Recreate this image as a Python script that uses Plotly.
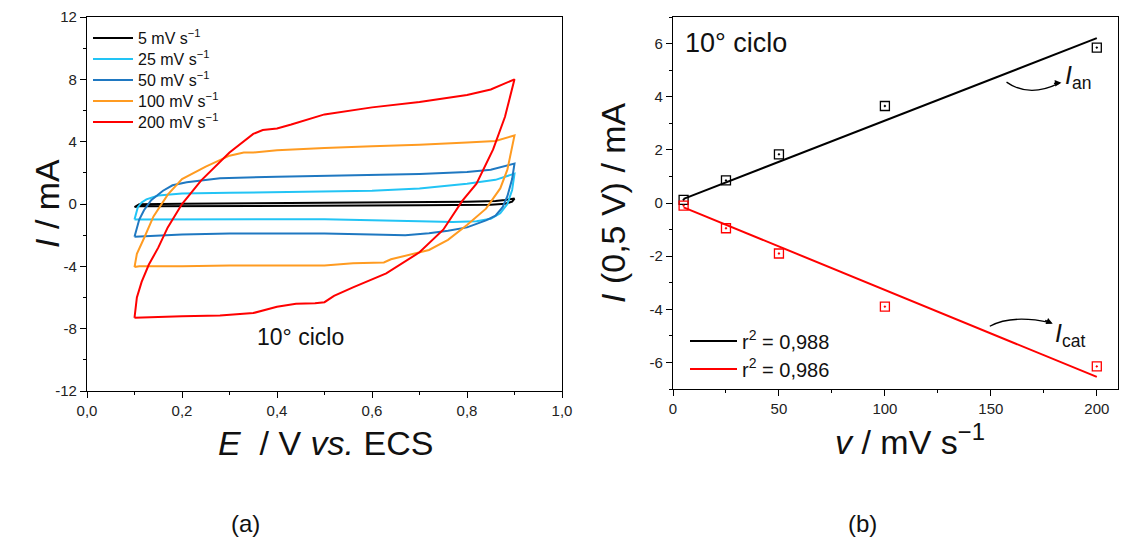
import numpy as np
import plotly.graph_objects as go

W, H = 1138, 551

# ---------------- (a) cyclic voltammograms ----------------
scan_labels = ["5 mV s<sup>−1</sup>", "25 mV s<sup>−1</sup>", "50 mV s<sup>−1</sup>",
               "100 mV s<sup>−1</sup>", "200 mV s<sup>−1</sup>"]
scan_colors = ["#000000", "#22C4F5", "#1F78C1", "#FF9B21", "#FF0000"]

E_5_fwd = [0.10, 0.105, 0.11, 0.20, 0.35, 0.50, 0.65, 0.80, 0.86, 0.88, 0.90]
I_5_fwd = [-0.20, -0.08, -0.02, 0.02, 0.05, 0.08, 0.11, 0.15, 0.20, 0.25, 0.35]
E_5_rev = [0.90, 0.895, 0.88, 0.85, 0.70, 0.50, 0.35, 0.20, 0.11, 0.10]
I_5_rev = [0.35, 0.15, 0.02, -0.05, -0.08, -0.10, -0.11, -0.12, -0.15, -0.20]

E_25_fwd = [0.10, 0.103, 0.107, 0.115, 0.125, 0.15, 0.20, 0.30, 0.40, 0.50, 0.60, 0.70, 0.80, 0.86, 0.90]
I_25_fwd = [-1.00, -0.60, -0.20, 0.10, 0.30, 0.55, 0.68, 0.72, 0.75, 0.78, 0.85, 1.00, 1.30, 1.55, 1.95]
E_25_rev = [0.90, 0.895, 0.885, 0.87, 0.85, 0.82, 0.77, 0.70, 0.60, 0.50, 0.40, 0.30, 0.20, 0.11, 0.10]
I_25_rev = [1.95, 0.90, 0.00, -0.60, -0.95, -1.10, -1.15, -1.10, -1.03, -0.98, -0.98, -0.98, -1.00, -1.00, -1.00]

E_50_fwd = [0.10, 0.105, 0.11, 0.12, 0.135, 0.16, 0.18, 0.21, 0.28, 0.40, 0.50, 0.60, 0.70, 0.80, 0.85, 0.90]
I_50_fwd = [-2.10, -1.60, -1.00, -0.40, 0.25, 0.85, 1.20, 1.40, 1.65, 1.75, 1.80, 1.85, 1.93, 2.05, 2.20, 2.60]
E_50_rev = [0.90, 0.895, 0.885, 0.875, 0.86, 0.84, 0.80, 0.76, 0.72, 0.67, 0.60, 0.50, 0.40, 0.30, 0.20, 0.11, 0.10]
I_50_rev = [2.60, 1.60, 0.50, -0.20, -0.75, -1.05, -1.50, -1.72, -1.88, -2.00, -1.95, -1.90, -1.90, -1.90, -1.95, -2.05, -2.10]

E_100_fwd = [0.10, 0.105, 0.12, 0.14, 0.17, 0.20, 0.25, 0.30, 0.33, 0.35, 0.40, 0.50, 0.60, 0.70, 0.80, 0.86, 0.90]
I_100_fwd = [-4.05, -3.20, -2.20, -0.80, 0.60, 1.60, 2.40, 3.10, 3.30, 3.30, 3.45, 3.60, 3.70, 3.80, 3.95, 4.05, 4.40]
E_100_rev = [0.90, 0.885, 0.87, 0.84, 0.80, 0.76, 0.72, 0.67, 0.64, 0.625, 0.56, 0.50, 0.40, 0.30, 0.20, 0.11, 0.10]
I_100_rev = [4.40, 2.20, 1.00, -0.30, -1.35, -2.30, -2.95, -3.30, -3.55, -3.75, -3.80, -3.95, -3.95, -3.95, -4.00, -4.00, -4.05]

E_200_fwd = [0.10, 0.105, 0.115, 0.13, 0.15, 0.17, 0.20, 0.24, 0.30, 0.35, 0.37, 0.40, 0.43, 0.50, 0.60, 0.70, 0.80, 0.85, 0.90]
I_200_fwd = [-7.30, -6.00, -5.00, -3.90, -2.80, -1.50, 0.00, 1.50, 3.30, 4.50, 4.75, 4.85, 5.10, 5.75, 6.20, 6.55, 7.00, 7.35, 8.00]
E_200_rev = [0.90, 0.88, 0.855, 0.82, 0.79, 0.75, 0.70, 0.63, 0.56, 0.52, 0.50, 0.48, 0.44, 0.40, 0.35, 0.28, 0.20, 0.10]
I_200_rev = [8.00, 5.60, 3.50, 1.30, 0.20, -1.65, -3.10, -4.45, -5.35, -5.90, -6.30, -6.37, -6.40, -6.60, -7.00, -7.15, -7.20, -7.30]

cv_E = [E_5_fwd + E_5_rev, E_25_fwd + E_25_rev, E_50_fwd + E_50_rev,
        E_100_fwd + E_100_rev, E_200_fwd + E_200_rev]
cv_I = [I_5_fwd + I_5_rev, I_25_fwd + I_25_rev, I_50_fwd + I_50_rev,
        I_100_fwd + I_100_rev, I_200_fwd + I_200_rev]

a_xticks = [0.0, 0.2, 0.4, 0.6, 0.8, 1.0]
a_xticktext = ["0,0", "0,2", "0,4", "0,6", "0,8", "1,0"]
a_yticks = [-12, -8, -4, 0, 4, 8, 12]
a_yticktext = ["-12", "-8", "-4", "0", "4", "8", "12"]

# ---------------- (b) current at 0.5 V vs scan rate ----------------
v_rate = [5, 25, 50, 100, 200]
I_an = [0.12, 0.85, 1.83, 3.65, 5.85]
I_cat = [-0.10, -0.95, -1.90, -3.90, -6.15]
r2_labels = ["r<sup>2</sup> = 0,988", "r<sup>2</sup> = 0,986"]

b_xticks = [0, 50, 100, 150, 200]
b_xticktext = ["0", "50", "100", "150", "200"]
b_yticks = [-6, -4, -2, 0, 2, 4, 6]
b_yticktext = ["-6", "-4", "-2", "0", "2", "4", "6"]

FONT = "Arial, Liberation Sans, sans-serif"

fig = go.Figure()

legend_layout = {}
left_leg_y = [38, 59, 80, 101, 122]
for k, (name, col, ee, ii) in enumerate(zip(scan_labels, scan_colors, cv_E, cv_I)):
    lname = "legend" if k == 0 else f"legend{k + 1}"
    fig.add_trace(go.Scatter(x=ee, y=ii, mode="lines", name=name,
                             line=dict(color=col, width=2),
                             xaxis="x", yaxis="y", legend=lname))
    legend_layout[lname] = dict(x=88 / W, y=1 - left_leg_y[k] / H, xanchor="left", yanchor="middle",
                                bgcolor="rgba(0,0,0,0)", itemwidth=40,
                                font=dict(family=FONT, size=16, color="#111"))

# linear fits through the origin (derived from the data)
v_arr = np.array(v_rate, dtype=float)
fit_colors = ["#000000", "#FF0000"]
right_leg_y = [341, 369]
for k, (lab, col, ys) in enumerate(zip(r2_labels, fit_colors, [I_an, I_cat])):
    lname = f"legend{6 + k}"
    y_arr = np.array(ys, dtype=float)
    slope = float((v_arr * y_arr).sum() / (v_arr ** 2).sum())
    fig.add_trace(go.Scatter(x=v_arr, y=slope * v_arr, mode="lines", name=lab,
                             line=dict(color=col, width=2),
                             xaxis="x2", yaxis="y2", legend=lname))
    legend_layout[lname] = dict(x=685 / W, y=1 - right_leg_y[k] / H, xanchor="left", yanchor="middle",
                                bgcolor="rgba(0,0,0,0)", itemwidth=47,
                                font=dict(family=FONT, size=20, color="#111"))
for col, ys in zip(fit_colors, [I_an, I_cat]):
    fig.add_trace(go.Scatter(x=v_rate, y=ys, mode="markers", showlegend=False,
                             marker=dict(symbol="square-open-dot", size=9, color=col,
                                         line=dict(width=1.3, color=col)),
                             xaxis="x2", yaxis="y2"))

axis_common = dict(showline=True, linecolor="black", linewidth=1.3, mirror=True,
                   showgrid=False, zeroline=False, ticks="outside", ticklen=6,
                   tickwidth=1.3, tickcolor="black", automargin=False,
                   tickfont=dict(family=FONT, size=15, color="#222222"))

fig.update_layout(
    width=W, height=H,
    margin=dict(l=0, r=0, t=0, b=0, autoexpand=False),
    paper_bgcolor="white", plot_bgcolor="white",
    font=dict(family=FONT, color="#111111"),
    xaxis=dict(domain=[87 / W, 562 / W], range=[0, 1], anchor="y",
               tickvals=a_xticks, ticktext=a_xticktext,
               minor=dict(ticks="outside", dtick=0.1, ticklen=3, tickcolor="black"),
               **axis_common),
    yaxis=dict(domain=[1 - 391 / H, 1 - 17 / H], range=[-12, 12], anchor="x",
               tickvals=a_yticks, ticktext=a_yticktext,
               minor=dict(ticks="outside", dtick=2, ticklen=3, tickcolor="black"),
               **axis_common),
    xaxis2=dict(domain=[673 / W, 1118 / W], range=[0, 210], anchor="y2",
                tickvals=b_xticks, ticktext=b_xticktext,
                minor=dict(ticks="outside", dtick=25, ticklen=3, tickcolor="black"),
                **axis_common),
    yaxis2=dict(domain=[1 - 389 / H, 1 - 17 / H], range=[-7, 7], anchor="x2",
                tickvals=b_yticks, ticktext=b_yticktext,
                minor=dict(ticks="outside", dtick=1, ticklen=3, tickcolor="black"),
                **axis_common),
    showlegend=True,
    **legend_layout,
)


def ptxt(text, px, py, size, xanchor="center", angle=0):
    return dict(text=text, x=px / W, y=1 - py / H, xref="paper", yref="paper",
                xanchor=xanchor, yanchor="middle", textangle=angle, showarrow=False,
                font=dict(size=size, family=FONT, color="#111"))


ann = [
    ptxt("<i>I</i> / mA", 47, 204, 34, angle=-90),
    ptxt("<i>E</i>  / V <i>vs.</i> ECS", 325, 443, 34),
    ptxt("<i>I</i> (0,5 V) / mA", 613, 203, 34, angle=-90),
    ptxt("<i>v</i> / mV s<sup>−1</sup>", 910, 440, 34),
    ptxt("(a)", 245, 523, 24),
    ptxt("(b)", 862, 523, 24),
    ptxt("10° ciclo", 300, 337, 23),
    ptxt("10° ciclo", 683, 43, 27, xanchor="left"),
]
# I_an / I_cat labels
ann.append(dict(text="<i>I</i><sub>an</sub>", x=184.0, y=4.75, xref="x2", yref="y2",
                xanchor="left", yanchor="middle", showarrow=False,
                font=dict(size=25, family=FONT, color="#111")))
ann.append(dict(text="<i>I</i><sub>cat</sub>", x=179.5, y=-4.95, xref="x2", yref="y2",
                xanchor="left", yanchor="middle", showarrow=False,
                font=dict(size=25, family=FONT, color="#111")))
# arrowheads
ann.append(dict(text="", x=183.3, y=4.53, xref="x2", yref="y2", ax=-9, ay=1,
                showarrow=True, arrowhead=2, arrowsize=1, arrowwidth=1.3, arrowcolor="black"))
ann.append(dict(text="", x=179.2, y=-4.54, xref="x2", yref="y2", ax=-9, ay=-4,
                showarrow=True, arrowhead=2, arrowsize=1, arrowwidth=1.3, arrowcolor="black"))
fig.update_layout(annotations=ann)

fig.update_layout(shapes=[
    dict(type="path", xref="x2", yref="y2", path="M 157.4,4.55 Q 168,3.95 182,4.5",
         line=dict(color="black", width=1.3)),
    dict(type="path", xref="x2", yref="y2", path="M 149.5,-4.64 Q 159.8,-4.19 178,-4.5",
         line=dict(color="black", width=1.3)),
])

fig.write_html("out.html", config={"displayModeBar": False},
               post_script="document.body.style.margin='0';document.body.style.padding='0';")
